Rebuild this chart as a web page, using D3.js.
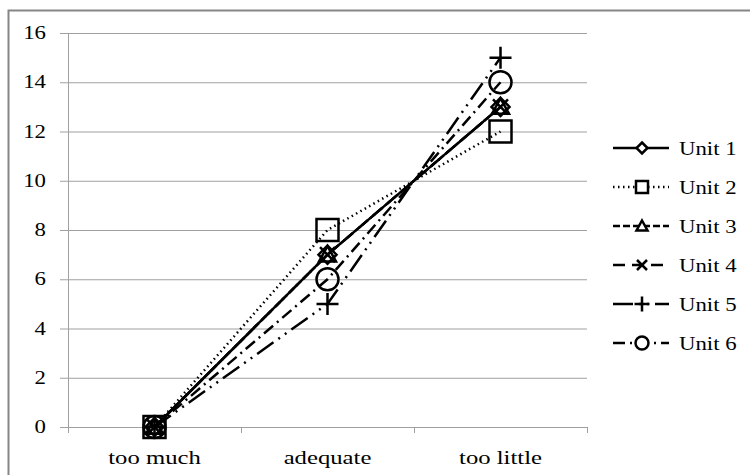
<!DOCTYPE html>
<html>
<head>
<meta charset='utf-8'>
<script src='https://d3js.org/d3.v7.min.js'></script>
<style type='text/css'>
  body { margin: 0; background: #fff; }
  text { font-family: 'Liberation Serif', 'DejaVu Serif', serif; font-size: 19px; fill: #000; }
</style>
</head>
<body>
<script type='text/javascript'>
  var categories = ['too much', 'adequate', 'too little'],
    seriesNames = ['Unit 1', 'Unit 2', 'Unit 3', 'Unit 4', 'Unit 5', 'Unit 6'],
    unit1 = [0, 7, 13],
    unit2 = [0, 8, 12],
    unit3 = [0, 7, 13],
    unit4 = [0, 7, 13],
    unit5 = [0, 5, 15],
    unit6 = [0, 6, 14],
    yTicks = [0, 2, 4, 6, 8, 10, 12, 14, 16];

  var seriesValues = [unit1, unit2, unit3, unit4, unit5, unit6];
  // line dash + marker per series
  var dashes = ['none', '1.5,3.5', '7,3', '12,7', '20,6,2,6,2,6', '12,5,2,5'],
    legendOffsets = [0, 0, 0, 0, 0, 0],
    markers = ['diamond', 'square', 'triangle', 'cross', 'plus', 'circle'];

  var w = 750, h = 475,
    plotLeft = 68, plotRight = 587, plotTop = 33, plotBottom = 427;

  var svg = d3.select('body').append('svg')
    .attr('width', w)
    .attr('height', h);

  //Outer chart border (only top and left are in view)
  svg.append('rect')
    .attr('x', 8.5).attr('y', 10.5)
    .attr('width', w + 20).attr('height', h + 20)
    .attr('fill', 'none')
    .attr('stroke', '#868686')
    .attr('stroke-width', 2);

  var x = d3.scaleBand().domain(categories).range([plotLeft, plotRight]);
  var y = d3.scaleLinear().domain([0, 16]).range([plotBottom, plotTop]);

  //text in the picture is wider than the font, so stretch it a bit
  function place(px, py, k) { return 'translate(' + px + ',' + py + ') scale(' + k + ',1)'; }

  //Horizontal gridlines
  svg.append('g')
    .attr('transform', 'translate(' + plotLeft + ',0)')
    .call(d3.axisLeft(y).tickValues(yTicks).tickSize(-(plotRight - plotLeft)).tickFormat(''))
    .call(function(g) {
      g.select('.domain').remove();
      g.selectAll('.tick line').attr('stroke', '#a0a0a0').attr('x1', -8);
    });

  //Y axis line + labels
  svg.append('line')
    .attr('x1', plotLeft + 0.5).attr('x2', plotLeft + 0.5)
    .attr('y1', plotTop).attr('y2', plotBottom)
    .attr('stroke', '#a0a0a0');

  svg.selectAll('.ylab').data(yTicks).enter().append('text')
    .attr('class', 'ylab')
    .attr('transform', function(d) { return place(46, y(d) + 6, 1.2); })
    .attr('text-anchor', 'end')
    .text(function(d) { return d; });

  //X axis
  var xAxis = svg.append('g')
    .attr('transform', 'translate(0,' + plotBottom + ')');
  xAxis.append('line')
    .attr('x1', plotLeft).attr('x2', plotRight)
    .attr('y1', 0.5).attr('y2', 0.5)
    .attr('stroke', '#a0a0a0');
  var bounds = [plotLeft].concat(categories.map(function(c) { return x(c) + x.bandwidth(); }));
  xAxis.selectAll('.xtick').data(bounds).enter().append('line')
    .attr('x1', function(d) { return d + 0.5; })
    .attr('x2', function(d) { return d + 0.5; })
    .attr('y1', 0).attr('y2', 6)
    .attr('stroke', '#a0a0a0');
  xAxis.selectAll('.xlab').data(categories).enter().append('text')
    .attr('transform', function(d) { return place(x(d) + x.bandwidth() / 2, 37, 1.3); })
    .attr('text-anchor', 'middle')
    .text(function(d) { return d; });

  function markerPath(type, s) {
    var r = s / 2;
    if (type == 'diamond') return 'M0,' + (-r) + 'L' + r + ',0L0,' + r + 'L' + (-r) + ',0Z';
    if (type == 'square') return 'M' + (-r) + ',' + (-r) + 'H' + r + 'V' + r + 'H' + (-r) + 'Z';
    if (type == 'triangle') return 'M0,' + (-r) + 'L' + r + ',' + (r * 0.8) + 'L' + (-r) + ',' + (r * 0.8) + 'Z';
    if (type == 'cross') return 'M' + (-r) + ',' + (-r) + 'L' + r + ',' + r + 'M' + r + ',' + (-r) + 'L' + (-r) + ',' + r;
    if (type == 'plus') return 'M' + (-r) + ',0H' + r + 'M0,' + (-r) + 'V' + r;
    if (type == 'circle') return 'M' + r + ',0A' + r + ',' + r + ' 0 1,1 ' + (-r) + ',0A' + r + ',' + r + ' 0 1,1 ' + r + ',0Z';
  }
  var plotSizes = [18, 22, 17, 15, 22, 22],
    legendSizes = [11, 12, 11, 10, 15, 13];

  var line = d3.line()
    .x(function(d, i) { return x(categories[i]) + x.bandwidth() / 2; })
    .y(function(d) { return y(d); });

  seriesValues.forEach(function(vals, s) {
    var g = svg.append('g');
    g.append('path')
      .attr('d', line(vals))
      .attr('fill', 'none')
      .attr('stroke', '#000')
      .attr('stroke-width', 2.5)
      .attr('stroke-dasharray', dashes[s]);
    g.selectAll('path.mk').data(vals).enter().append('path')
      .attr('class', 'mk')
      .attr('transform', function(d, i) {
        return 'translate(' + (x(categories[i]) + x.bandwidth() / 2) + ',' + y(d) + ')';
      })
      .attr('d', markerPath(markers[s], plotSizes[s]))
      .attr('fill', 'none')
      .attr('stroke', '#000')
      .attr('stroke-width', 2.5);
  });

  //Legend
  var legend = svg.selectAll('.legend').data(seriesNames).enter().append('g')
    .attr('transform', function(d, i) { return 'translate(613,' + (148 + i * 39) + ')'; });
  legend.append('line')
    .attr('x1', 0).attr('x2', 56)
    .attr('y1', 0).attr('y2', 0)
    .attr('stroke', '#000')
    .attr('stroke-width', 2.5)
    .attr('stroke-dasharray', function(d, i) { return dashes[i]; })
    .attr('stroke-dashoffset', function(d, i) { return legendOffsets[i]; });
  legend.append('path')
    .attr('transform', 'translate(29,0)')
    .attr('d', function(d, i) { return markerPath(markers[i], legendSizes[i]); })
    .attr('fill', '#fff')
    .attr('stroke', '#000')
    .attr('stroke-width', 2.5);
  legend.append('text')
    .attr('transform', place(66, 7, 1.2))
    .text(function(d) { return d; });
</script>
</body>
</html>
